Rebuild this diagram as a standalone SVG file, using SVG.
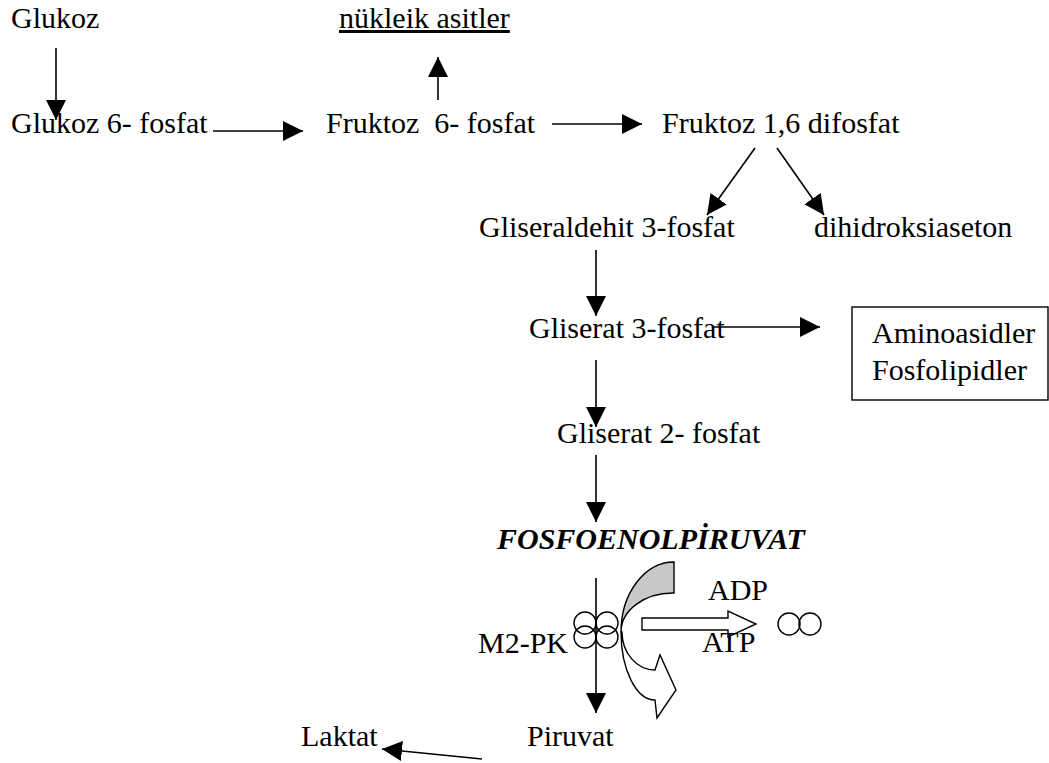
<svg xmlns="http://www.w3.org/2000/svg" width="1049" height="763" viewBox="0 0 1049 763">
<style>
text{font-family:"Liberation Serif","Times New Roman",serif;font-size:30px;fill:#000}
.ln{stroke:#000;stroke-width:1.6;fill:none}
.sh{stroke:#000;stroke-width:1.4}
</style>
<defs>
<marker id="ah" markerUnits="userSpaceOnUse" markerWidth="22" markerHeight="22" refX="20" refY="10" orient="auto" viewBox="0 0 22 22">
<path d="M0,0 L20,10 L0,20 Z" fill="#000"/>
</marker>
</defs>
<rect width="1049" height="763" fill="#fff"/>
<g id="connectors">
<line class="ln" x1="56" y1="48" x2="56" y2="120" marker-end="url(#ah)"/>
<line class="ln" x1="213" y1="131" x2="303" y2="131" marker-end="url(#ah)"/>
<line class="ln" x1="438" y1="100" x2="438" y2="57" marker-end="url(#ah)"/>
<line class="ln" x1="552" y1="124" x2="642" y2="124" marker-end="url(#ah)"/>
<line class="ln" x1="755" y1="148" x2="707" y2="215" marker-end="url(#ah)"/>
<line class="ln" x1="777" y1="148" x2="824" y2="215" marker-end="url(#ah)"/>
<line class="ln" x1="596" y1="250" x2="596" y2="316" marker-end="url(#ah)"/>
<line class="ln" x1="712" y1="327" x2="820" y2="327" marker-end="url(#ah)"/>
<line class="ln" x1="596" y1="360" x2="596" y2="427" marker-end="url(#ah)"/>
<line class="ln" x1="596" y1="455" x2="596" y2="522" marker-end="url(#ah)"/>
<line class="ln" x1="596" y1="578" x2="596" y2="713" marker-end="url(#ah)"/>
<line class="ln" x1="482" y1="759" x2="382" y2="749" marker-end="url(#ah)"/>
</g>
<g id="glukoz"><text x="11" y="28">Glukoz</text></g>
<g id="nukleik"><text x="339" y="28" text-decoration="underline">nükleik asitler</text></g>
<g id="glukoz6"><text x="11" y="133">Glukoz 6- fosfat</text></g>
<g id="fruktoz6"><text x="326" y="133" xml:space="preserve">Fruktoz  6- fosfat</text></g>
<g id="fruktoz16"><text x="662" y="133">Fruktoz 1,6 difosfat</text></g>
<g id="gliseraldehit"><text x="479" y="237">Gliseraldehit 3-fosfat</text></g>
<g id="dihidroksi"><text x="814" y="237">dihidroksiaseton</text></g>
<g id="gliserat3"><text x="529" y="338">Gliserat 3-fosfat</text></g>
<g id="box">
<rect class="sh" x="852" y="307" width="196" height="93" fill="#fff"/>
<text x="872" y="343">Aminoasidler</text>
<text x="872" y="380">Fosfolipidler</text>
</g>
<g id="gliserat2"><text x="557" y="443">Gliserat 2- fosfat</text></g>
<g id="pep"><text x="497" y="549" font-weight="bold" font-style="italic" font-size="29">FOSFOENOLPİRUVAT</text></g>
<g id="m2pk">
<text x="478" y="653">M2-PK</text>
<circle class="sh" cx="585" cy="623" r="11" fill="none"/>
<circle class="sh" cx="607" cy="623" r="11" fill="none"/>
<circle class="sh" cx="585" cy="637" r="11" fill="none"/>
<circle class="sh" cx="607" cy="637" r="11" fill="none"/>
</g>
<g id="curved-arrow">
<path class="sh" d="M674,562 A53,70 0 0 0 621,632 A52,39 0 0 1 674,593 Z" fill="#c8c8c8"/>
<path class="sh" d="M621,632 A34,68 0 0 0 655,700 L657,718 L676,690 L660,655 L655,670 A33,38 0 0 1 622,632 Z" fill="#fff"/>
</g>
<g id="adp-atp">
<text x="708" y="600">ADP</text>
<path class="sh" d="M642,618 L728,618 L728,611 L756,624 L728,637 L728,630 L642,630 Z" fill="#fff"/>
<text x="702" y="652">ATP</text>
</g>
<g id="dimer">
<circle class="sh" cx="789" cy="624" r="11" fill="none"/>
<circle class="sh" cx="810" cy="624" r="11" fill="none"/>
</g>
<g id="piruvat"><text x="527" y="746">Piruvat</text></g>
<g id="laktat"><text x="301" y="746">Laktat</text></g>
</svg>
